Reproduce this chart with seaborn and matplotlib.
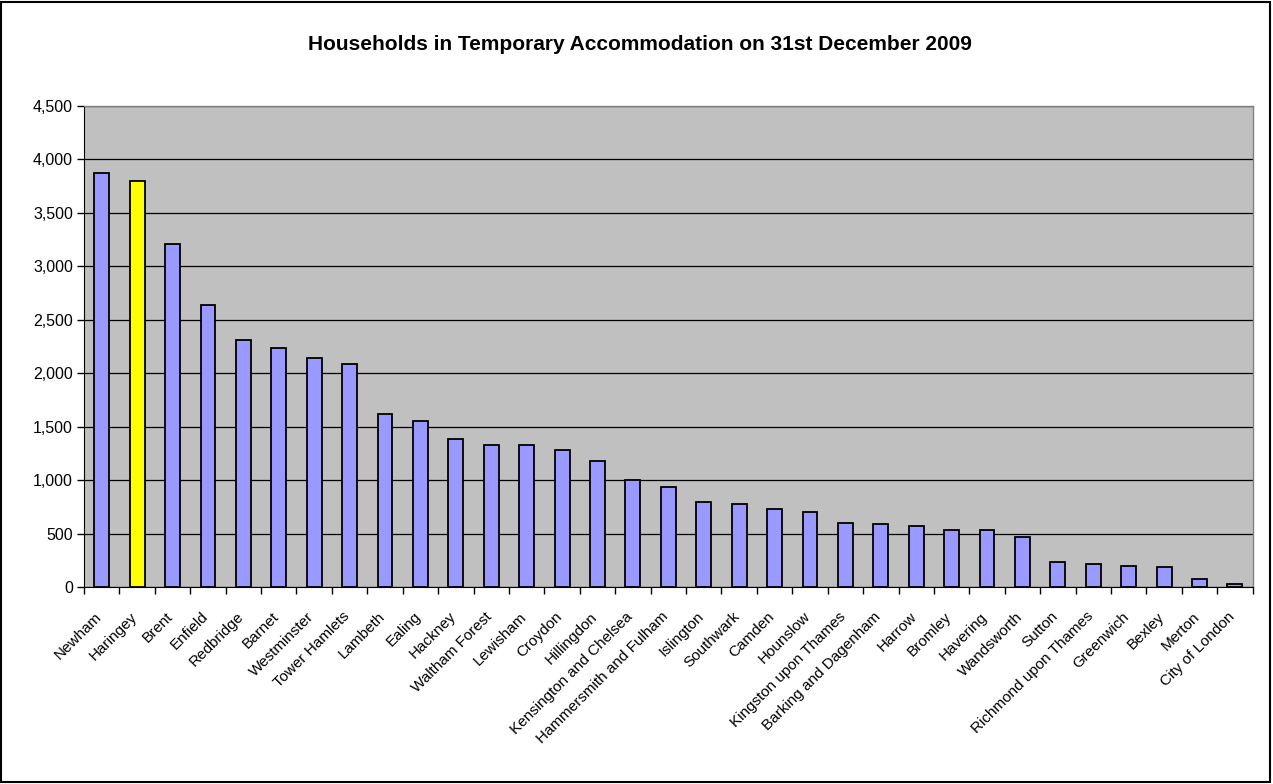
import matplotlib
matplotlib.use("Agg")
import numpy as np
import pandas as pd
import seaborn as sns
import matplotlib.pyplot as plt
from matplotlib.patches import Rectangle
from matplotlib.ticker import FuncFormatter, FixedLocator
from matplotlib.transforms import ScaledTranslation

boroughs = ["Newham", "Haringey", "Brent", "Enfield", "Redbridge", "Barnet",
            "Westminster", "Tower Hamlets", "Lambeth", "Ealing", "Hackney",
            "Waltham Forest", "Lewisham", "Croydon", "Hillingdon",
            "Kensington and Chelsea", "Hammersmith and Fulham", "Islington",
            "Southwark", "Camden", "Hounslow", "Kingston upon Thames",
            "Barking and Dagenham", "Harrow", "Bromley", "Havering",
            "Wandsworth", "Sutton", "Richmond upon Thames", "Greenwich",
            "Bexley", "Merton", "City of London"]
households = [3870, 3800, 3210, 2640, 2310, 2240,
              2140, 2085, 1615, 1555, 1390,
              1330, 1330, 1285, 1180,
              1005, 940, 800,
              781, 731, 703, 600,
              587, 569, 537, 531,
              466, 234, 219, 200,
              187, 78, 28]
highlight = "Haringey"

df = pd.DataFrame({"borough": boroughs, "households": households})
colors = ["#FFFF00" if b == highlight else "#9999FF" for b in boroughs]

sns.set_style("white")
plt.rcParams["font.family"] = ["Liberation Sans", "DejaVu Sans"]
plt.rcParams["text.color"] = "black"
plt.rcParams["xtick.color"] = "black"
plt.rcParams["ytick.color"] = "black"

fig = plt.figure(figsize=(12.73, 7.84), dpi=100)
ax = fig.add_axes([0.066, 0.251, 0.918, 0.614])

sns.barplot(data=df, x="borough", y="households", hue="borough",
            palette=colors, saturation=1, legend=False, width=0.42,
            edgecolor="black", linewidth=1.3, ax=ax, zorder=3)

ax.set_facecolor("#C0C0C0")
ax.set_ylim(0, 4500)
ax.set_xlim(-0.5, len(boroughs) - 0.5)
ax.set_yticks(np.arange(0, 4501, 500))
ax.yaxis.set_major_formatter(FuncFormatter(lambda v, p: f"{int(v):,}"))
ax.grid(axis="y", color="black", linewidth=0.9, zorder=1)
ax.set_axisbelow(True)

ax.set_xticks(range(len(boroughs)))
ax.set_xticklabels(boroughs, rotation=45, ha="right", rotation_mode="anchor",
                   fontsize=11)
ax.xaxis.set_minor_locator(FixedLocator(np.arange(-0.5, len(boroughs), 1)))
ax.tick_params(axis="x", which="major", length=0, pad=16)
ax.tick_params(axis="x", which="minor", length=5, width=1, color="black",
               direction="out", bottom=True)
ax.tick_params(axis="y", length=5, width=1, color="black", direction="out",
               left=True, labelsize=11.5, pad=3)

# nudge the rotated labels a little to the left, like the original
shift = ScaledTranslation(-0.07, 0, fig.dpi_scale_trans)
for lbl in ax.get_xticklabels():
    lbl.set_transform(lbl.get_transform() + shift)

for side in ["top", "right"]:
    ax.spines[side].set_color("#808080")
    ax.spines[side].set_linewidth(1)
ax.spines["left"].set_color("black")
ax.spines["bottom"].set_color("black")

ax.set_xlabel("")
ax.set_ylabel("")

fig.text(0.503, 0.943, "Households in Temporary Accommodation on 31st December 2009",
         ha="center", va="center", fontsize=15, fontweight="bold")

fig.patches.append(Rectangle((0.001, 0.002), 0.997, 0.996,
                             transform=fig.transFigure, fill=False,
                             edgecolor="black", linewidth=1.5))

fig.savefig("out.png", dpi=100)
